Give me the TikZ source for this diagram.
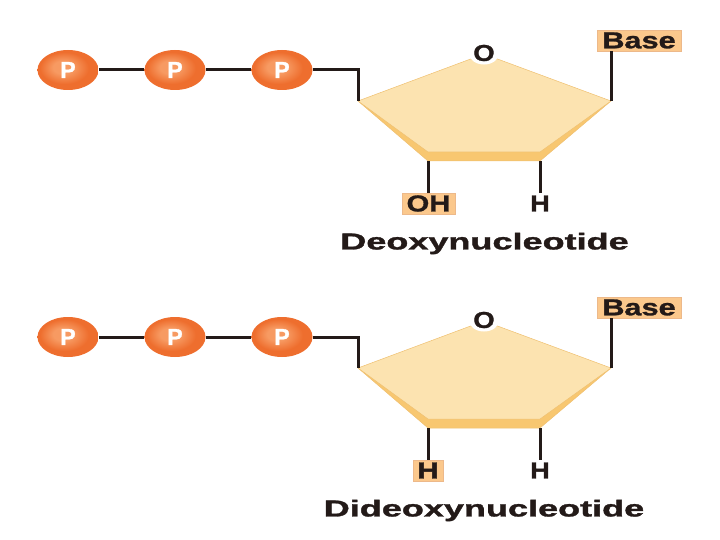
\documentclass[tikz,border=0pt]{standalone}
\usepackage{fontspec}
\setmainfont[BoldFeatures={FakeBold=1.2}]{Liberation Sans}
\usetikzlibrary{shapes.geometric}
\definecolor{sugar}{HTML}{FCE3B0}
\definecolor{sugardark}{HTML}{F8C770}
\definecolor{sugaredge}{HTML}{EFC070}
\definecolor{boxfill}{HTML}{FBC88C}
\definecolor{boxedge}{HTML}{EDB98A}
\definecolor{inkc}{HTML}{231A18}
\definecolor{pcore}{HTML}{F79A62}
\definecolor{pmid}{HTML}{EE6E2E}
\definecolor{prim}{HTML}{CF4F18}
\pgfdeclareradialshading{pball}{\pgfpoint{-5bp}{4bp}}{%
  color(0bp)=(pcore);color(8bp)=(pcore);color(20bp)=(pmid);color(30bp)=(pmid);color(40bp)=(prim);color(50bp)=(prim)}
\tikzset{
  bigfont/.style={font=\bfseries\fontsize{23}{23}\selectfont},
  pnode/.style={ellipse,minimum width=61pt,minimum height=40pt,inner sep=0pt,shading=pball,
    text=white,bigfont},
  bond/.style={draw=inkc,line width=3pt,line cap=butt,line join=miter},
  tag/.style={fill=boxfill,draw=boxedge,line width=0.7pt,inner sep=0pt,text=inkc,bigfont},
  atom/.style={text=inkc,inner sep=0pt,bigfont},
  title/.style={text=inkc,inner sep=0pt,bigfont},
  sugarface/.style={fill=sugar,draw=sugaredge,line width=0.5pt,line join=round},
  sugarside/.style={fill=sugardark,draw=sugaredge,line width=0.5pt,line join=round}
}
\newcommand{\nucleotidepart}[5]{%
\begin{scope}[shift={(0,#1)},name prefix=#2-]
  \coordinate (L) at (358,101);
  \coordinate (R) at (611,101);
  \coordinate (A) at (484,54);
  \coordinate (BL) at (428,161);
  \coordinate (BR) at (540,161);
  \coordinate (J) at (358,70);
  \draw[sugarside] (L) -- (BL) -- (BR) -- (R) -- cycle;
  \draw[sugarface] (L) -- (A) -- (R) -- (540,152) -- (428,152) -- cycle;
  \node[pnode] (p1) at (68,70) {P};
  \node[pnode] (p2) at (175,70) {P};
  \node[pnode] (p3) at (282,70) {P};
  \node[fill=white,ellipse,inner sep=0pt,text=inkc,bigfont] (o) at (484,53) {\scalebox{1.2}[1]{O}};
  \node[tag,minimum width=84pt,minimum height=21pt] (base) at (639,40.5) {\scalebox{1.335}[1]{Base}};
  \node[tag,minimum width=#4pt,minimum height=21pt] (left) at (#3,203.5) {\scalebox{1.27}[1]{#5}};
  \node[atom] (h) at (540,203.5) {\scalebox{1.17}[1]{H}};
  \draw[bond] (p1) -- (p2);
  \draw[bond] (p2) -- (p3);
  \draw[bond] (p3) -- (J) -- (L);
  \draw[bond] (base.south -| R) -- (R);
  \draw[bond] (BL) -- (BL |- left.north);
  \draw[bond] (BR) -- (540,193);
\end{scope}}
\begin{document}
\begin{tikzpicture}[x=1pt,y=-1pt]
\useasboundingbox (0,0) rectangle (720,540);
\nucleotidepart{0}{a}{428.5}{53}{OH}
\node[title] (t1) at (484.5,243.5) {\scalebox{1.567}[1]{Deoxynucleotide}};
\nucleotidepart{267}{b}{428}{30}{H}
\node[title] (t2) at (484,510.5) {\scalebox{1.567}[1]{Dideoxynucleotide}};
\end{tikzpicture}
\end{document}
